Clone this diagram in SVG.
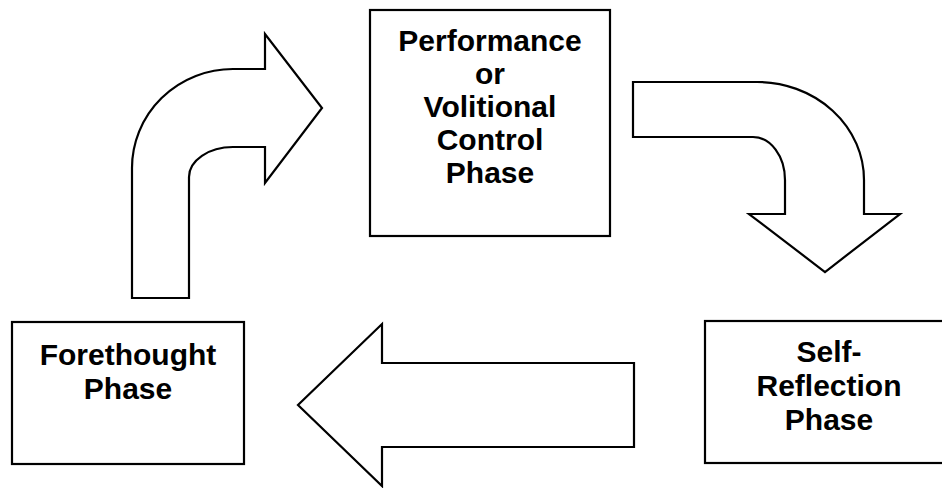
<svg xmlns="http://www.w3.org/2000/svg" width="942" height="488" viewBox="0 0 942 488">
  <style>
    .box { fill: #ffffff; stroke: #000000; stroke-width: 2.2; }
    .arrow { fill: #ffffff; stroke: #000000; stroke-width: 2.2; stroke-linejoin: miter; }
    .label { font-family: "Liberation Sans", Arial, sans-serif; font-weight: bold; font-size: 30px; fill: #000000; text-anchor: middle; }
  </style>
  <rect width="942" height="488" fill="#ffffff"/>

  <!-- cycle arrows between the phases -->
  <g id="connectors">
    <!-- bent arrow: up from Forethought, then right to Performance -->
    <path class="arrow" d="M132,298 L132,168 A101,99 0 0 1 233,69 L265,69 L265,34 L322,108 L265,183 L265,147 L233,147 A44,30 0 0 0 189,177 L189,298 Z"/>
    <!-- bent arrow: right from Performance, then down to Self-Reflection -->
    <path class="arrow" d="M633,82 L757,82 A107,98 0 0 1 864,180 L864,214 L900,214 L825,272 L749,214 L785,214 L785,180 A32,43 0 0 0 753,137 L633,137 Z"/>
    <!-- straight arrow: back from Self-Reflection to Forethought -->
    <path class="arrow" d="M634,363 L634,447 L382,447 L382,486 L298,405 L382,324 L382,363 Z"/>
  </g>

  <g id="performance">
    <rect class="box" x="370" y="10" width="240" height="226"/>
    <text class="label" x="490" y="51">Performance</text>
    <text class="label" x="490" y="84">or</text>
    <text class="label" x="490" y="117">Volitional</text>
    <text class="label" x="490" y="150">Control</text>
    <text class="label" x="490" y="183">Phase</text>
  </g>

  <g id="self-reflection">
    <rect class="box" x="705" y="321" width="260" height="142"/>
    <text class="label" x="829" y="362">Self-</text>
    <text class="label" x="829" y="396">Reflection</text>
    <text class="label" x="829" y="430">Phase</text>
  </g>

  <g id="forethought">
    <rect class="box" x="12" y="322" width="232" height="142"/>
    <text class="label" x="128" y="365">Forethought</text>
    <text class="label" x="128" y="399">Phase</text>
  </g>
</svg>
